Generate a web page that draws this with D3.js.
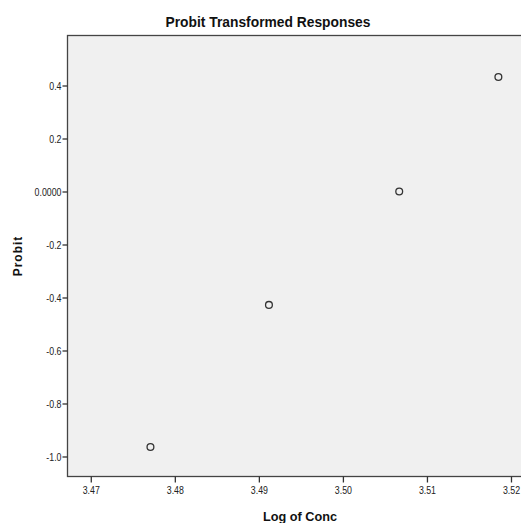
<!DOCTYPE html>
<html>
<head>
<meta charset="utf-8">
<script src="https://cdn.jsdelivr.net/npm/d3@7"></script>
<style>
  body { margin: 0; background: #fff; }
  svg text { font-family: "Liberation Sans", Arial, sans-serif; }
</style>
</head>
<body>
<div id="chart"></div>
<script>
// log concentration vs probit
var logConc = [3.4771, 3.4912, 3.5067, 3.5185];
var probit = [-0.964, -0.428, 0.0, 0.432];

var xTicks = [3.47, 3.48, 3.49, 3.50, 3.51, 3.52];
var xTickLabels = ["3.47", "3.48", "3.49", "3.50", "3.51", "3.52"];
var yTicks = [0.4, 0.2, 0.0, -0.2, -0.4, -0.6, -0.8, -1.0];
var yTickLabels = ["0.4", "0.2", "0.0000", "-0.2", "-0.4", "-0.6", "-0.8", "-1.0"];

var width = 521, height = 523;
var m = {left: 67.5, top: 35.5, right: 522, bottom: 476.5};
var squeeze = 0.8; // fake a narrow font

var x = d3.scaleLinear().domain([3.46723, 3.52131]).range([m.left, m.right]);
var y = d3.scaleLinear().domain([0.5887, -1.0755]).range([m.top, m.bottom]);

var svg = d3.select("#chart").append("svg")
    .attr("width", width)
    .attr("height", height);

svg.append("rect")
    .attr("x", m.left)
    .attr("y", m.top)
    .attr("width", m.right - m.left)
    .attr("height", m.bottom - m.top)
    .attr("fill", "#f0f0f0")
    .attr("stroke", "#444")
    .attr("stroke-width", 1.3);

var xAxis = d3.axisBottom(x)
    .tickValues(xTicks)
    .tickSize(6)
    .tickFormat(function(d, i) { return xTickLabels[i]; });

var gx = svg.append("g")
    .attr("transform", "translate(0," + m.bottom + ")")
    .call(xAxis);
gx.select(".domain").remove();
gx.selectAll("line").attr("stroke", "#333").attr("stroke-width", 1.3);
gx.selectAll("text")
    .attr("y", 10)
    .attr("transform", "scale(" + squeeze + ",1)")
    .attr("font-size", 11)
    .attr("fill", "#222");

var yAxis = d3.axisLeft(y)
    .tickValues(yTicks)
    .tickSize(5)
    .tickFormat(function(d, i) { return yTickLabels[i]; });

var gy = svg.append("g")
    .attr("transform", "translate(" + m.left + ",0)")
    .call(yAxis);
gy.select(".domain").remove();
gy.selectAll("line").attr("stroke", "#333").attr("stroke-width", 1.3);
gy.selectAll("text")
    .attr("x", -6 / squeeze)
    .attr("transform", "scale(" + squeeze + ",1)")
    .attr("font-size", 11)
    .attr("fill", "#222");

svg.selectAll("circle.pt")
    .data(logConc)
    .enter().append("circle")
    .attr("class", "pt")
    .attr("cx", function(d) { return x(d); })
    .attr("cy", function(d, i) { return y(probit[i]); })
    .attr("r", 3.4)
    .attr("fill", "none")
    .attr("stroke", "#333")
    .attr("stroke-width", 1.3);

svg.append("text")
    .attr("x", 268)
    .attr("y", 27)
    .attr("text-anchor", "middle")
    .attr("font-size", 15)
    .attr("font-weight", "bold")
    .attr("textLength", 205)
    .attr("lengthAdjust", "spacingAndGlyphs")
    .attr("fill", "#111")
    .text("Probit Transformed Responses");

svg.append("text")
    .attr("x", 300)
    .attr("y", 521)
    .attr("text-anchor", "middle")
    .attr("font-size", 13)
    .attr("font-weight", "bold")
    .attr("textLength", 74)
    .attr("lengthAdjust", "spacingAndGlyphs")
    .attr("fill", "#111")
    .text("Log of Conc");

svg.append("text")
    .attr("transform", "translate(22," + ((m.top + m.bottom) / 2) + ") rotate(-90)")
    .attr("text-anchor", "middle")
    .attr("font-size", 12)
    .attr("font-weight", "bold")
    .attr("letter-spacing", 1)
    .attr("fill", "#111")
    .text("Probit");
</script>
</body>
</html>
